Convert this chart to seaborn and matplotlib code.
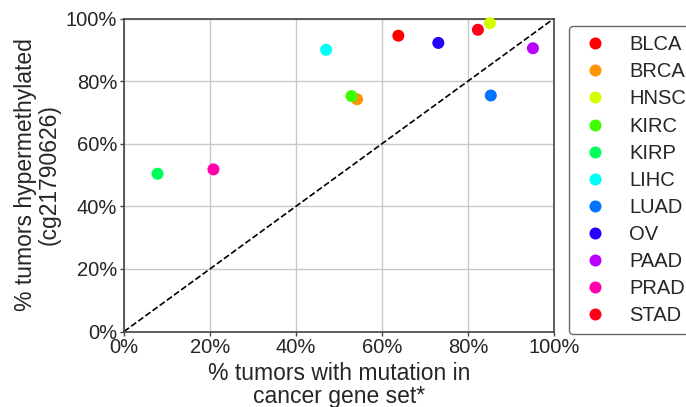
import seaborn as sns
import pandas as pd
import matplotlib.pyplot as plt
import numpy as np
from matplotlib.ticker import PercentFormatter

cancers = ['BLCA', 'BRCA', 'HNSC', 'KIRC', 'KIRP', 'LIHC', 'LUAD', 'OV', 'PAAD', 'PRAD', 'STAD']
pct_mutated = [63.8, 54.2, 85.1, 52.9, 7.8, 47.0, 85.3, 73.1, 95.1, 20.8, 82.3]
pct_hypermeth = [94.5, 74.2, 98.5, 75.2, 50.4, 90.0, 75.4, 92.2, 90.5, 51.8, 96.4]

df = pd.DataFrame({'Cancer': cancers, 'Mutated': pct_mutated, 'Hypermethylated': pct_hypermeth})

sns.set_theme(style="whitegrid")
plt.rcParams['font.family'] = ['Liberation Sans', 'DejaVu Sans']

pal = [plt.cm.hsv(v) for v in np.linspace(0, 1, len(cancers))]

fig, ax = plt.subplots(figsize=(6.86, 4.07), dpi=100)
fig.subplots_adjust(left=124/686, right=554/686, top=1-18.5/407, bottom=1-331.5/407)

ax.plot([0, 100], [0, 100], ls='--', color='black', lw=1.2, zorder=1)
sns.scatterplot(data=df, x='Mutated', y='Hypermethylated', hue='Cancer', hue_order=cancers,
                palette=pal, s=75, edgecolor='none', ax=ax, zorder=3, clip_on=False)

ax.set_xlim(0, 100)
ax.set_ylim(0, 100)
ax.set_xticks(np.arange(0, 101, 20))
ax.set_yticks(np.arange(0, 101, 20))
ax.xaxis.set_major_formatter(PercentFormatter(decimals=0))
ax.yaxis.set_major_formatter(PercentFormatter(decimals=0))
ax.tick_params(labelsize=14.5, pad=2, length=3, width=1, color='#444444',
               bottom=True, left=True)
ax.grid(color='#c8c8c8', lw=1)
for sp in ax.spines.values():
    sp.set_color('#444444')
    sp.set_linewidth(1.2)

ax.set_xlabel('% tumors with mutation in\ncancer gene set*', fontsize=16.5, labelpad=3, linespacing=1.02)
ax.set_ylabel('% tumors hypermethylated\n(cg21790626)', fontsize=16.5, labelpad=4, linespacing=1.02)

leg = ax.legend(loc='upper left', bbox_to_anchor=(1.035, 0.975), fontsize=14.5, frameon=True,
                labelspacing=0.40, handlelength=1.7, handletextpad=0.84, borderpad=0.45,
                borderaxespad=0, markerscale=1.0)
leg.get_frame().set_edgecolor('#444444')
leg.get_frame().set_linewidth(1.0)

plt.savefig('out.png', dpi=100)
